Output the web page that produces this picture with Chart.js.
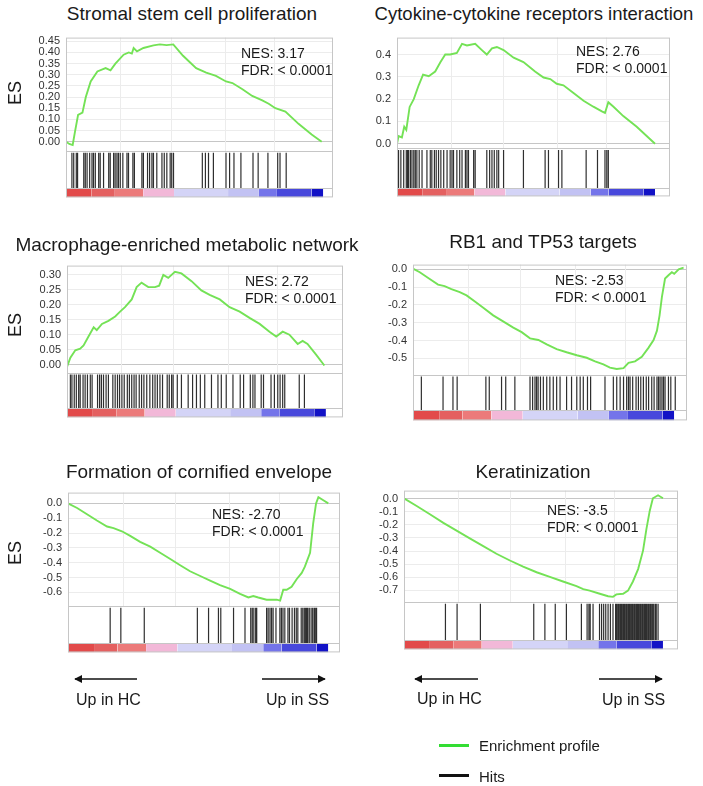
<!DOCTYPE html>
<html>
<head>
<meta charset="utf-8">
<script src="https://cdn.jsdelivr.net/npm/chart.js@4/dist/chart.umd.min.js"></script>
<style>
  body { margin: 0; background: #fff; font-family: Arial, "Liberation Sans", sans-serif; color: #1a1a1a; }
  #fig { position: relative; width: 703px; height: 786px; overflow: hidden; }
  #fig canvas { position: absolute; z-index: 1; }
  .title, .es, .nes, .lbl, .leg, .legline, svg { z-index: 2; }
  .title { position: absolute; white-space: nowrap; font-size: 19px; transform: translate(-50%, -50%); }
  .es { position: absolute; font-size: 18px; transform: translate(-50%, -50%) rotate(-90deg); }
  .nes { position: absolute; font-size: 14px; line-height: 17px; white-space: nowrap; }
  .lbl { position: absolute; font-size: 16px; white-space: nowrap; transform: translateY(-50%); }
  .leg { position: absolute; font-size: 15px; white-space: nowrap; transform: translateY(-50%); }
  .legline { position: absolute; width: 30px; height: 3px; }
</style>
</head>
<body>
<div id="fig">
  <div class="title" style="left:192px;top:14px;">Stromal stem cell proliferation</div>
  <div class="title" style="left:534px;top:14px;font-size:18.5px;">Cytokine-cytokine receptors interaction</div>
  <div class="title" style="left:187px;top:245px;">Macrophage-enriched metabolic network</div>
  <div class="title" style="left:543px;top:242px;">RB1 and TP53 targets</div>
  <div class="title" style="left:199px;top:472px;">Formation of cornified envelope</div>
  <div class="title" style="left:533px;top:472px;">Keratinization</div>

  <div class="es" style="left:15px;top:93px;">ES</div>
  <div class="es" style="left:15px;top:325px;">ES</div>
  <div class="es" style="left:15px;top:553px;">ES</div>

  <div class="nes" style="left:241px;top:45px;">NES: 3.17<br>FDR: &lt; 0.0001</div>
  <div class="nes" style="left:576px;top:43px;">NES: 2.76<br>FDR: &lt; 0.0001</div>
  <div class="nes" style="left:245px;top:273px;">NES: 2.72<br>FDR: &lt; 0.0001</div>
  <div class="nes" style="left:555px;top:272px;">NES: -2.53<br>FDR: &lt; 0.0001</div>
  <div class="nes" style="left:212px;top:506px;">NES: -2.70<br>FDR: &lt; 0.0001</div>
  <div class="nes" style="left:547px;top:502px;">NES: -3.5<br>FDR: &lt; 0.0001</div>

  <svg width="703" height="786" style="position:absolute;left:0;top:0;">
    <defs>
      <marker id="ah" viewBox="0 0 10 10" refX="9" refY="5" markerWidth="5.5" markerHeight="5.5" orient="auto">
        <path d="M0,0 L10,5 L0,10 z" fill="#111"/>
      </marker>
    </defs>
    <line x1="137" y1="679" x2="75" y2="679" stroke="#111" stroke-width="1.5" marker-end="url(#ah)"/>
    <line x1="262" y1="679" x2="325" y2="679" stroke="#111" stroke-width="1.5" marker-end="url(#ah)"/>
    <line x1="478" y1="679" x2="415" y2="679" stroke="#111" stroke-width="1.5" marker-end="url(#ah)"/>
    <line x1="599" y1="679" x2="662" y2="679" stroke="#111" stroke-width="1.5" marker-end="url(#ah)"/>
  </svg>
  <div class="lbl" style="left:76px;top:700px;">Up in HC</div>
  <div class="lbl" style="left:266px;top:700px;">Up in SS</div>
  <div class="lbl" style="left:417px;top:699px;">Up in HC</div>
  <div class="lbl" style="left:602px;top:700px;">Up in SS</div>

  <div class="legline" style="left:439px;top:744px;background:#33dd33;"></div>
  <div class="leg" style="left:479px;top:745px;">Enrichment profile</div>
  <div class="legline" style="left:439px;top:774px;background:#111;"></div>
  <div class="leg" style="left:479px;top:776px;">Hits</div>
</div>

<script>
// ---- data (x = position in ranked list, 0..100) ----
const stromalX = [0, 1.3, 2.6, 3.5, 4.7, 6.4, 7.7, 9.6, 12.2, 15.4, 17.3, 19.2, 22.4, 24.4, 25.6, 26.3, 27.6, 30.1, 34, 36.5, 39.1, 41.7, 45.5, 50.6, 54.5, 58.3, 62.2, 64.7, 68.6, 72.4, 76.3, 78.8, 81.4, 85.3, 90.4, 95.5, 99.4];
const stromalES = [0, -0.01, -0.015, 0.045, 0.12, 0.13, 0.2, 0.27, 0.315, 0.33, 0.32, 0.35, 0.39, 0.4, 0.395, 0.42, 0.405, 0.42, 0.432, 0.436, 0.433, 0.436, 0.385, 0.33, 0.31, 0.295, 0.27, 0.263, 0.235, 0.205, 0.185, 0.17, 0.15, 0.135, 0.08, 0.032, 0];
const stromalHits = [2.3, 3, 4, 4.5, 6.9, 7.5, 8.2, 9.2, 10.1, 10.7, 11.4, 12.7, 13.3, 14.6, 16.6, 17.2, 18.5, 19.1, 19.8, 20.4, 21.1, 22.1, 23.7, 24.3, 26, 26.6, 29.5, 30.1, 31.7, 32.5, 33.4, 34, 35.3, 37.3, 38.2, 39.2, 40.5, 41.1, 41.8, 53, 54.2, 55.4, 57.3, 62.2, 63.6, 65.3, 68, 72.7, 74.7, 78.5, 82.3, 83.2, 85.6];

const cytokineX = [0, 0.6, 1.9, 2.8, 3.6, 4.9, 6.5, 8.4, 10.1, 12.3, 14.8, 16.8, 18.7, 20.6, 23.2, 25.2, 27.1, 30.3, 32.9, 34.8, 36.8, 38.7, 41.3, 45.2, 49, 53.5, 56.8, 59.4, 61.9, 64.5, 68.4, 72.3, 76.1, 79.4, 80.6, 81.9, 83.9, 87.7, 92.9, 100];
const cytokineES = [0, 0.034, 0.028, 0.076, 0.062, 0.165, 0.2, 0.262, 0.31, 0.303, 0.324, 0.365, 0.4, 0.4, 0.407, 0.448, 0.441, 0.448, 0.42, 0.4, 0.428, 0.434, 0.42, 0.386, 0.366, 0.324, 0.297, 0.29, 0.269, 0.262, 0.228, 0.193, 0.166, 0.145, 0.138, 0.186, 0.166, 0.124, 0.076, 0];
const cytokineHits = [0.6, 1.5, 2.6, 3.6, 4.1, 4.5, 5.2, 5.8, 6.5, 7.1, 7.7, 8.6, 9.7, 11.6, 12.9, 13.5, 14.5, 15.2, 16.1, 17, 18.1, 19.4, 20.6, 21.3, 21.9, 23.2, 24.3, 25.2, 26.5, 27.1, 27.7, 29.7, 30.3, 34.8, 35.9, 36.8, 37.7, 38.7, 39.4, 41.3, 49, 57.4, 58.7, 62.6, 63.9, 73.3, 77.7, 80.6, 81.3, 81.9];

const macroX = [0, 1.3, 3.2, 5.1, 6.4, 8.3, 10.3, 11.5, 13.5, 16, 18.6, 20.5, 22.4, 25, 26.9, 28.8, 31.4, 34, 35.6, 37.2, 39.1, 41.7, 44.2, 48.1, 51.9, 55.1, 59, 62.8, 66.7, 70.5, 74.4, 78.2, 80.8, 83.3, 85.9, 89.1, 91, 92.9, 96.2, 99.4];
const macroES = [-0.008, 0.023, 0.048, 0.053, 0.064, 0.094, 0.125, 0.115, 0.136, 0.146, 0.161, 0.177, 0.192, 0.218, 0.259, 0.274, 0.259, 0.259, 0.264, 0.3, 0.29, 0.31, 0.305, 0.279, 0.248, 0.233, 0.218, 0.192, 0.177, 0.156, 0.136, 0.11, 0.094, 0.11, 0.1, 0.069, 0.079, 0.069, 0.033, -0.003];
const macroHits = [1.3, 1.9, 2.8, 3.6, 4.5, 5.1, 6.2, 7, 7.9, 9, 9.7, 11.8, 12.6, 13.3, 14.1, 15.1, 16, 17.7, 18.6, 19.5, 20.3, 21.2, 22.1, 23.3, 24.1, 25, 25.9, 26.7, 27.9, 28.8, 29.7, 30.8, 32, 33.1, 34, 34.9, 35.9, 36.9, 38.7, 39.5, 40.4, 41, 42.6, 44.2, 46.8, 48.5, 50, 51.5, 53.2, 55.8, 58.3, 59.6, 61.5, 64.1, 66.9, 68.2, 70.8, 71.8, 72.6, 75, 75.9, 78.8, 80.1, 81.4, 82.3, 83.3, 84.1, 89.7, 91.7];

const rb1X = [0, 2.6, 6.4, 9.6, 12.1, 14.7, 17.9, 20.5, 23.7, 26.9, 30.7, 34.5, 38.4, 41.6, 44.8, 48, 51.2, 55, 58.8, 62.7, 66.5, 69.7, 72.9, 75.4, 78, 80.6, 82.5, 85, 87.6, 90.2, 92.1, 93.4, 94.4, 95.3, 96.5, 97.8, 99.1, 100, 101.7, 103.6];
const rb1ES = [0.003, -0.017, -0.055, -0.086, -0.095, -0.112, -0.129, -0.147, -0.181, -0.216, -0.259, -0.293, -0.328, -0.353, -0.388, -0.397, -0.422, -0.448, -0.466, -0.483, -0.497, -0.517, -0.534, -0.552, -0.56, -0.555, -0.526, -0.517, -0.491, -0.44, -0.397, -0.345, -0.259, -0.155, -0.052, -0.034, -0.017, -0.026, 0, 0.009];
const rb1Hits = [3.2, 11.5, 15.3, 16.9, 27.9, 29.2, 33.9, 35.5, 39, 44.8, 45.8, 46.7, 47.3, 47.9, 48.8, 49.9, 51.2, 52.4, 53.7, 55, 56.3, 58.8, 60.7, 62.7, 64, 65.2, 66.8, 68, 73.5, 76.7, 78, 79.3, 80.6, 81.8, 82.5, 83.1, 84.1, 85.4, 86.3, 87.2, 88.2, 89.3, 90.2, 91.4, 92.3, 93.4, 94, 94.6, 95.3, 95.9, 96.5, 97.8, 98.7, 100.4];

const cornX = [0, 3.5, 7.3, 11.1, 15, 17.5, 20.7, 23.9, 27.7, 31.6, 35.4, 39.3, 43.1, 46.9, 50.8, 54.6, 58.4, 62.3, 66.1, 69.3, 71.2, 73.1, 76.3, 80.2, 81.5, 82.7, 84, 85.9, 87.9, 89.8, 91, 93, 94.2, 95.3, 96.2, 98.1, 100];
const cornES = [0, -0.031, -0.073, -0.115, -0.156, -0.167, -0.188, -0.219, -0.26, -0.292, -0.333, -0.375, -0.417, -0.458, -0.49, -0.521, -0.552, -0.577, -0.61, -0.635, -0.625, -0.635, -0.65, -0.65, -0.656, -0.583, -0.583, -0.563, -0.51, -0.469, -0.427, -0.333, -0.135, 0, 0.042, 0.021, 0];
const cornHits = [16.2, 20.3, 29.3, 49.7, 54, 57.8, 58.7, 63.6, 68, 70.2, 70.8, 71.4, 72.1, 72.5, 76.3, 76.9, 77.6, 78.2, 78.8, 79.9, 81.4, 82, 82.6, 83.3, 84.5, 85.1, 86.1, 87, 87.7, 88.3, 89.6, 90.2, 90.8, 91.3, 91.7, 92.1, 92.7, 93.4, 94, 94.6, 95, 95.5];

const keratX = [0, 4.9, 10, 15.2, 20.3, 25.4, 30.6, 35.7, 40.9, 46, 51.2, 56.3, 61.4, 66.6, 69.2, 71.7, 75.6, 78.8, 80.7, 82, 84.6, 86.5, 88.4, 90.4, 92.3, 93.6, 94.9, 96.1, 98.1, 100];
const keratES = [0.005, -0.054, -0.118, -0.184, -0.243, -0.303, -0.362, -0.421, -0.473, -0.52, -0.563, -0.598, -0.634, -0.669, -0.693, -0.704, -0.728, -0.747, -0.752, -0.733, -0.728, -0.704, -0.634, -0.539, -0.397, -0.232, -0.09, 0.005, 0.028, 0.005];
const keratHits = [16, 20.5, 29.5, 50.1, 54.4, 58.4, 62.7, 68.5, 70.7, 71.4, 71.9, 73, 75.5, 76.3, 77.1, 77.9, 78.8, 79.7, 80.7, 81.7, 82.1, 82.6, 83, 83.5, 83.9, 84.3, 84.8, 85.2, 85.7, 86.1, 86.6, 87, 87.4, 87.9, 88.3, 88.8, 89.2, 89.7, 90.1, 90.5, 91, 91.4, 91.9, 92.3, 92.8, 93.2, 93.6, 94.1, 94.5, 95, 95.4, 95.9, 96.4, 97, 97.4, 98.1];

// ranked-list colour bar (same list for every panel)
const barStart = [0, 10, 19, 30, 42, 63, 75, 82, 95.5];
const barEnd = [10, 19, 30, 42, 63, 75, 82, 95.5, 100];
const barColor = ['#e24a4a', '#e46060', '#ec7a7a', '#f2b8d8', '#d4d4f7', '#c2c2f3', '#7474ea', '#4848dc', '#1212c6'];

// faint vertical grid in the ES box
const vGrid = [21, 41, 62, 81];

// ---- page layout of each panel (pixels) ----
const panels = [
  { x: stromalX, es: stromalES, hits: stromalHits, left: 66, right: 333, esTop: 35, esBottom: 158, hitBottom: 198, barBottom: 208, xMax: 103.8, yMin: -0.0427, yMax: 0.4666, step: 0.05, dec: 2 },
  { x: cytokineX, es: cytokineES, hits: cytokineHits, left: 397, right: 670, esTop: 35, esBottom: 155, hitBottom: 198, barBottom: 207, xMax: 105.8, yMin: -0.021, yMax: 0.476, step: 0.1, dec: 1 },
  { x: macroX, es: macroES, hits: macroHits, left: 67, right: 343, esTop: 263, esBottom: 380, hitBottom: 418, barBottom: 428, xMax: 106.6, yMin: -0.029, yMax: 0.331, step: 0.05, dec: 2 },
  { x: rb1X, es: rb1ES, hits: rb1Hits, left: 413, right: 687, esTop: 262, esBottom: 382, hitBottom: 420, barBottom: 431, xMax: 104.9, yMin: -0.595, yMax: 0.026, step: 0.1, dec: 1 },
  { x: cornX, es: cornES, hits: cornHits, left: 68, right: 340, esTop: 490, esBottom: 613, hitBottom: 653, barBottom: 663, xMax: 104.5, yMin: -0.694, yMax: 0.073, step: 0.1, dec: 1 },
  { x: keratX, es: keratES, hits: keratHits, left: 404, right: 678, esTop: 488, esBottom: 609, hitBottom: 650, barBottom: 660, xMax: 105.8, yMin: -0.794, yMax: 0.064, step: 0.1, dec: 1 }
];

Chart.defaults.font.family = 'Arial, "Liberation Sans", sans-serif';

const AX = 48, PT = 10, PB = 2, PR = 2;

const framePlugin = {
  id: 'gseaFrame',
  beforeDatasetsDraw(chart) {
    const { ctx, scales } = chart;
    const ys = scales.y;
    ctx.save();
    ctx.strokeStyle = '#ececec';
    ctx.lineWidth = 1;
    vGrid.forEach(v => {
      const px = Math.round(scales.x.getPixelForValue(v)) + 0.5;
      ctx.beginPath();
      ctx.moveTo(px, ys.top);
      ctx.lineTo(px, ys.bottom);
      ctx.stroke();
    });
    ctx.restore();
  },
  afterDatasetsDraw(chart) {
    const { ctx, chartArea: a, scales } = chart;
    ctx.save();
    ctx.strokeStyle = '#c6c6c6';
    ctx.lineWidth = 1;
    ctx.strokeRect(a.left + 0.5, a.top + 0.5, a.width - 1, a.height - 1);
    [scales.yh.top, scales.yb.top].forEach(yy => {
      const py = Math.round(yy) + 0.5;
      ctx.beginPath();
      ctx.moveTo(a.left, py);
      ctx.lineTo(a.right, py);
      ctx.stroke();
    });
    ctx.restore();
  }
};

function fixWidth(scale) { scale.width = AX; }

function buildPanel(p) {
  const fig = document.getElementById('fig');
  const plotW = p.right - p.left;
  const esH = p.esBottom - p.esTop;
  const hitH = p.hitBottom - p.esBottom;
  const barH = p.barBottom - p.hitBottom;

  const cv = document.createElement('canvas');
  cv.width = AX + plotW + PR;
  cv.height = PT + esH + hitH + barH + PB;
  cv.style.left = (p.left - AX) + 'px';
  cv.style.top = (p.esTop - PT) + 'px';
  fig.appendChild(cv);

  const datasets = [{
    data: p.x.map((x, i) => ({ x, y: p.es[i] })),
    yAxisID: 'y',
    borderColor: '#74e256',
    borderWidth: 1.9,
    pointRadius: 0,
    tension: 0,
    fill: false
  }, {
    data: p.hits.flatMap(h => [{ x: h, y: 0 }, { x: h, y: 1 }, { x: h, y: null }]),
    yAxisID: 'yh',
    borderColor: 'rgba(10,10,10,0.85)',
    borderWidth: 1.2,
    pointRadius: 0,
    spanGaps: false,
    fill: false
  }];
  barStart.forEach((s, i) => {
    datasets.push({
      data: [{ x: s, y: 1 }, { x: barEnd[i], y: 1 }],
      yAxisID: 'yb',
      backgroundColor: barColor[i],
      borderColor: barColor[i],
      borderWidth: 0,
      pointRadius: 0,
      fill: 'origin'
    });
  });

  new Chart(cv, {
    type: 'line',
    data: { datasets },
    plugins: [framePlugin],
    options: {
      responsive: false,
      animation: false,
      layout: { padding: { top: PT, bottom: PB, right: PR, left: 0 } },
      plugins: { legend: { display: false }, tooltip: { enabled: false } },
      scales: {
        x: { type: 'linear', display: false, min: 0, max: p.xMax },
        y: {
          position: 'left', stack: 'panel', stackWeight: esH, weight: 3,
          min: p.yMin, max: p.yMax,
          afterFit: fixWidth,
          border: { display: false },
          grid: {
            drawTicks: false,
            color: ctx => Math.abs(ctx.tick.value) < 1e-9 ? '#c6c6c6' : '#ececec'
          },
          ticks: {
            stepSize: p.step,
            includeBounds: false,
            autoSkip: false,
            padding: 6,
            color: '#333',
            font: { size: 11 },
            callback: v => (Math.abs(v) < 1e-9 ? 0 : v).toFixed(p.dec)
          }
        },
        yh: {
          position: 'left', stack: 'panel', stackWeight: hitH, weight: 2,
          min: 0, max: 1.04,
          afterFit: fixWidth,
          border: { display: false },
          grid: { display: false },
          ticks: { display: false }
        },
        yb: {
          position: 'left', stack: 'panel', stackWeight: barH, weight: 1,
          min: 0, max: 1,
          afterFit: fixWidth,
          border: { display: false },
          grid: { display: false },
          ticks: { display: false }
        }
      }
    }
  });
}

panels.forEach(buildPanel);
</script>
</body>
</html>
